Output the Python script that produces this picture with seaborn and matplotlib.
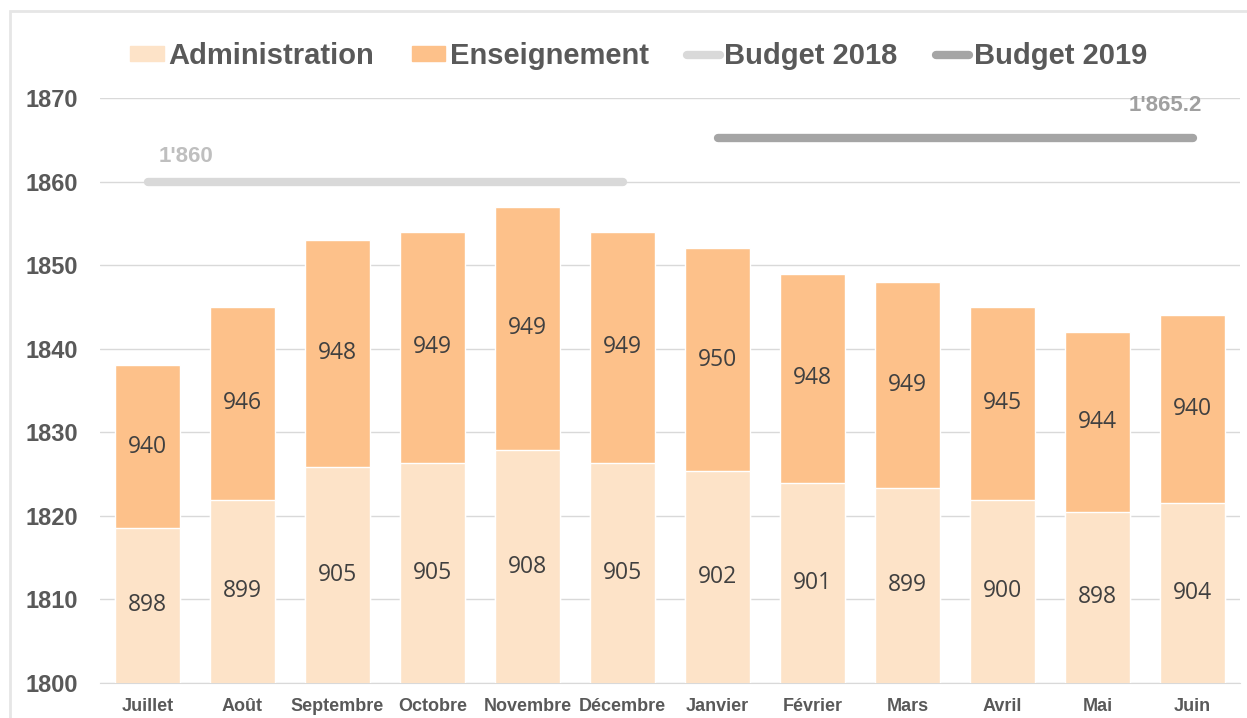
import numpy as np
import pandas as pd
import matplotlib.pyplot as plt
import matplotlib.patches as mpatches
from matplotlib.lines import Line2D
import seaborn as sns

# données mensuelles (EPT)
mois = ['Juillet', 'Août', 'Septembre', 'Octobre', 'Novembre', 'Décembre',
        'Janvier', 'Février', 'Mars', 'Avril', 'Mai', 'Juin']
administration = [898, 899, 905, 905, 908, 905, 902, 901, 899, 900, 898, 904]
enseignement = [940, 946, 948, 949, 949, 949, 950, 948, 949, 945, 944, 940]
budget_2018 = 1860
budget_2019 = 1865.2
mois_2018 = mois[:6]
mois_2019 = mois[6:]

y_min = 1800

df = pd.DataFrame({'mois': mois, 'admin': administration, 'ens': enseignement})
df['total'] = df['admin'] + df['ens']
# part de l'administration reportée sur la partie visible de la barre
df['admin_top'] = y_min + (df['total'] - y_min) * df['admin'] / df['total']

c_admin = '#FDE3C8'
c_ens = '#FDC18A'
c_b18 = '#D9D9D9'
c_b19 = '#A5A5A5'
grey_txt = '#595959'

sns.set_style('white')
plt.rcParams['font.family'] = ['Liberation Sans', 'DejaVu Sans']

fig = plt.figure(figsize=(12.47, 7.18), dpi=100)
ax = fig.add_axes([0.0802, 0.0487, 0.9142, 0.8148])

sns.barplot(data=df, x='mois', y='total', color=c_ens, width=0.68,
            saturation=1, ax=ax, zorder=2)
sns.barplot(data=df, x='mois', y='admin_top', color=c_admin, width=0.68,
            saturation=1, ax=ax, zorder=3)

ax.set_ylim(y_min, 1870)
ax.set_xlim(-0.5, len(mois) - 0.5)
ax.set_yticks(range(1800, 1871, 10))
ax.yaxis.grid(True, color='#D9D9D9', linewidth=1)
ax.set_axisbelow(True)
for s in ['top', 'right', 'left']:
    ax.spines[s].set_visible(False)
ax.spines['bottom'].set_color('#D9D9D9')
ax.set_xlabel('')
ax.set_ylabel('')
ax.tick_params(axis='y', length=0, pad=16, labelsize=17, labelcolor=grey_txt)
ax.tick_params(axis='x', length=0, pad=11, labelsize=13, labelcolor=grey_txt)
for t in ax.get_yticklabels() + ax.get_xticklabels():
    t.set_fontweight('bold')

# étiquettes de valeurs
for i, r in df.iterrows():
    ax.text(i, (y_min + r['admin_top']) / 2, f"{r['admin']}", ha='center', va='center',
            fontsize=16.5, color='#404040', family='Open Sans', zorder=5)
    ax.text(i, (r['admin_top'] + r['total']) / 2, f"{r['ens']}", ha='center', va='center',
            fontsize=16.5, color='#404040', family='Open Sans', zorder=5)

# lignes budget
x18 = [mois.index(m) for m in mois_2018]
x19 = [mois.index(m) for m in mois_2019]
ax.plot([x18[0], x18[-1]], [budget_2018, budget_2018], color=c_b18, lw=6,
        solid_capstyle='round', zorder=4)
ax.plot([x19[0], x19[-1]], [budget_2019, budget_2019], color=c_b19, lw=6,
        solid_capstyle='round', zorder=4, clip_on=False)
ax.text(x18[0] + 0.12, budget_2018 + 1.7, "1'860", ha='left', va='bottom',
        fontsize=16, fontweight='bold', color='#BFBFBF')
ax.text(x19[-1] + 0.1, budget_2019 + 2.6, "1'865.2", ha='right', va='bottom',
        fontsize=16, fontweight='bold', color='#A0A0A0', clip_on=False)

# légende
handles = [
    mpatches.Patch(color=c_admin, label='Administration'),
    mpatches.Patch(color=c_ens, label='Enseignement'),
    Line2D([], [], color=c_b18, lw=6, solid_capstyle='round', label='Budget 2018'),
    Line2D([], [], color=c_b19, lw=6, solid_capstyle='round', label='Budget 2019'),
]
leg = fig.legend(handles=handles, loc='center', bbox_to_anchor=(0.512, 0.922), ncol=4,
                 frameon=False, fontsize=21, handlelength=1.15, handleheight=0.4,
                 handletextpad=0.15, columnspacing=1.3)
for t in leg.get_texts():
    t.set_color(grey_txt)
    t.set_fontweight('bold')

# cadre
fig.patches.append(mpatches.Rectangle((10 / 1247, -0.1), 1.2, 0.1 + 1 - 11 / 718,
                                      transform=fig.transFigure, fill=False,
                                      edgecolor='#E6E6E6', linewidth=2))

fig.savefig('out.png', dpi=100)
